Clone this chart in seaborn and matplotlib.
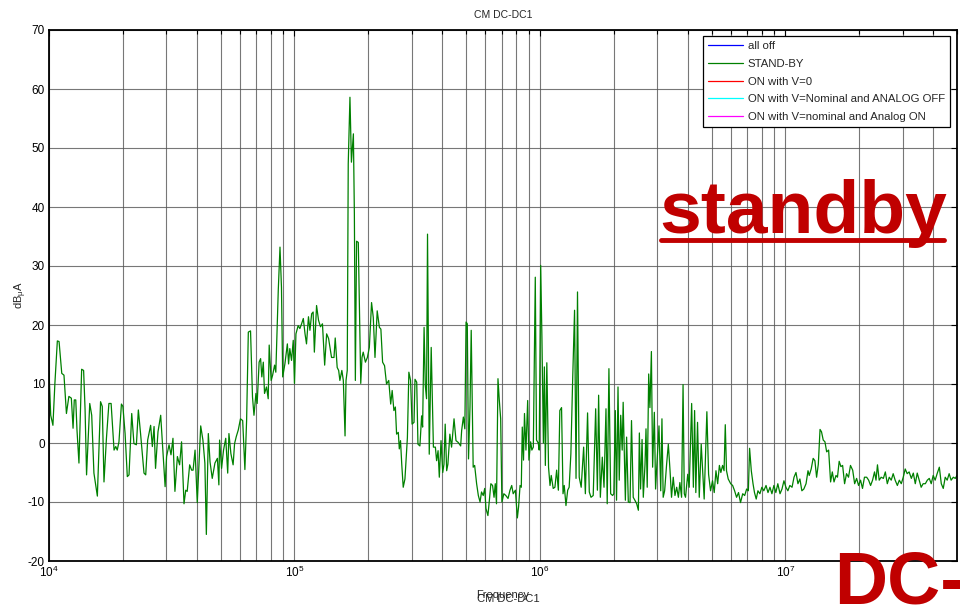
"""
CM DC-DC1: espectro de emisiones en modo comun (STAND-BY).
Valores leidos a mano de la grafica original (eje x logaritmico).
"""

import matplotlib
matplotlib.use("Agg")
import matplotlib.pyplot as plt
import matplotlib.ticker as mticker
import numpy as np
import pandas as pd
import seaborn as sns

# Series
SERIES = ["all off", "STAND-BY", "ON with V=0",
          "ON with V=Nominal and ANALOG OFF", "ON with V=nominal and Analog ON"]
COLORES = ["#0000ff", "#008000", "#ff0000", "#00ffff", "#ff00ff"]

# Exponente decimal de la frecuencia (log10 Hz) y nivel en dBuA, curva STAND-BY
exp_frec = [
    4.000, 4.007, 4.016, 4.024, 4.034, 4.041, 4.052, 4.061, 4.071, 4.081,
    4.091, 4.098, 4.103, 4.109, 4.114, 4.122, 4.133, 4.141, 4.147, 4.153,
    4.166, 4.174, 4.183, 4.197, 4.210, 4.217, 4.224, 4.234, 4.244, 4.253,
    4.265, 4.272, 4.278, 4.285, 4.295, 4.301, 4.310, 4.319, 4.326, 4.337,
    4.346, 4.356, 4.364, 4.373, 4.387, 4.394, 4.402, 4.414, 4.421, 4.428,
    4.434, 4.444, 4.455, 4.462, 4.473, 4.479, 4.489, 4.497, 4.505, 4.513,
    4.523, 4.532, 4.540, 4.550, 4.557, 4.563, 4.573, 4.581, 4.587, 4.595,
    4.604, 4.618, 4.627, 4.635, 4.641, 4.649, 4.656, 4.665, 4.676, 4.686,
    4.692, 4.695, 4.703, 4.711, 4.720, 4.728, 4.733, 4.741, 4.750, 4.756,
    4.763, 4.771,
    4.780, 4.789, 4.798, 4.805, 4.812, 4.821, 4.829, 4.835, 4.843, 4.848,
    4.856, 4.862, 4.867, 4.873, 4.878, 4.886, 4.893, 4.897, 4.905, 4.911,
    4.919, 4.924, 4.934, 4.941, 4.947, 4.952, 4.961, 4.971, 4.976, 4.981,
    4.988, 4.995, 5.000, 5.006, 5.015, 5.022, 5.029, 5.036, 5.043, 5.049,
    5.057, 5.063, 5.070, 5.076, 5.081, 5.090, 5.098, 5.106, 5.114, 5.123,
    5.131, 5.139,
    5.151, 5.161, 5.166, 5.174, 5.180, 5.185, 5.193, 5.199, 5.206, 5.210,
    5.215, 5.219, 5.226, 5.232, 5.240, 5.244, 5.248, 5.253, 5.260, 5.270,
    5.275, 5.280, 5.289, 5.297, 5.305, 5.314, 5.321, 5.328, 5.337, 5.346,
    5.352, 5.359, 5.367, 5.375, 5.384, 5.392, 5.398, 5.405, 5.411, 5.416,
    5.423, 5.427, 5.432, 5.437, 5.443, 5.450, 5.460, 5.466, 5.473, 5.479,
    5.487, 5.491, 5.498, 5.503, 5.511, 5.518, 5.522, 5.528, 5.533, 5.538,
    5.542, 5.549, 5.557, 5.566, 5.574, 5.579, 5.585, 5.590, 5.597, 5.604,
    5.609, 5.614, 5.620, 5.625, 5.633, 5.640, 5.650, 5.658, 5.667, 5.677,
    5.681, 5.688, 5.694, 5.699, 5.704, 5.709, 5.715, 5.720, 5.728, 5.734,
    5.742, 5.749, 5.756, 5.762, 5.769, 5.775, 5.780, 5.788, 5.794, 5.800,
    5.807, 5.813, 5.818, 5.823, 5.829, 5.834, 5.840, 5.845, 5.853, 5.861,
    5.870, 5.878, 5.885, 5.891, 5.900, 5.908, 5.913, 5.919, 5.924, 5.928,
    5.933, 5.937, 5.943, 5.950, 5.955, 5.962, 5.967, 5.973, 5.981, 5.986,
    5.993, 5.997, 6.003, 6.008, 6.014, 6.018, 6.022, 6.028, 6.035, 6.041,
    6.046, 6.054, 6.061, 6.068, 6.075, 6.081, 6.088, 6.094, 6.099, 6.106,
    6.113, 6.119, 6.126, 6.133, 6.141, 6.147, 6.153, 6.160, 6.168, 6.178,
    6.185, 6.194, 6.201, 6.208, 6.217, 6.227, 6.234, 6.239, 6.246, 6.254,
    6.261, 6.269, 6.274, 6.281, 6.288, 6.296, 6.301, 6.307, 6.312, 6.318,
    6.323, 6.329, 6.335, 6.339, 6.348, 6.353, 6.360,
    6.367, 6.373, 6.380, 6.388, 6.394, 6.401, 6.405, 6.410, 6.416, 6.421,
    6.428, 6.432, 6.437, 6.443, 6.448, 6.454, 6.459, 6.466, 6.471, 6.478,
    6.485, 6.492, 6.497, 6.502, 6.508, 6.516, 6.523, 6.530, 6.536, 6.543,
    6.550, 6.557, 6.564, 6.570, 6.577, 6.583, 6.588, 6.593, 6.602, 6.608,
    6.618, 6.625, 6.630, 6.635, 6.642, 6.649, 6.657, 6.663, 6.669, 6.675,
    6.680, 6.687, 6.695, 6.703, 6.710, 6.717, 6.724, 6.731, 6.737, 6.744,
    6.750, 6.755, 6.760, 6.767, 6.777, 6.785, 6.793, 6.801, 6.809, 6.817,
    6.826, 6.834, 6.842, 6.849, 6.854, 6.861, 6.868, 6.874, 6.881, 6.888,
    6.896, 6.904, 6.912, 6.921, 6.929, 6.937, 6.945, 6.953, 6.961, 6.969,
    6.978, 6.986, 6.994, 7.002, 7.010, 7.018, 7.027, 7.035, 7.043, 7.051,
    7.059, 7.067, 7.075, 7.084, 7.092, 7.097, 7.105, 7.113, 7.120, 7.127,
    7.134, 7.141,
    7.147, 7.154, 7.161, 7.168, 7.176, 7.184, 7.191, 7.198, 7.206, 7.212,
    7.219, 7.226, 7.233, 7.241, 7.249, 7.257, 7.265, 7.274, 7.282, 7.290,
    7.298, 7.306, 7.314, 7.322, 7.331, 7.339, 7.347, 7.355, 7.363, 7.369,
    7.375, 7.382, 7.390, 7.399, 7.407, 7.415, 7.423, 7.431, 7.439, 7.447,
    7.456, 7.464, 7.472, 7.480, 7.488, 7.496, 7.504, 7.513, 7.521, 7.529,
    7.537, 7.545, 7.553, 7.561, 7.570, 7.578, 7.586, 7.594, 7.602, 7.610,
    7.618, 7.627, 7.635, 7.643, 7.651, 7.659, 7.667, 7.675, 7.684, 7.692,
    7.699,
]

nivel_standby = [
    12.1, 4.7, 3.0, 10.1, 17.3, 17.2, 11.8, 11.5, 5.0, 7.9,
    7.6, 2.5, 7.3, 7.3, 2.2, -3.4, 12.5, 12.3, 5.6, -5.4,
    6.7, 4.7, -5.1, -9.0, 7.0, 6.2, -6.6, 0.8, 6.7, 6.7,
    -1.2, -0.6, -1.2, 0.2, 6.6, 6.2, 1.6, -5.7, -5.4, 5.0,
    -0.1, -0.3, 5.6, 1.6, -5.1, -5.4, 0.5, 3.0, -0.6, 2.8,
    -4.3, 1.9, 4.7, -0.1, -7.4, -2.3, -0.3, -2.0, 0.8, -8.2,
    -2.3, -3.7, 0.2, -10.3, -8.0, -8.2, -3.7, -4.6, -4.6, -1.2,
    -10.1, 2.9, 0.5, -3.4, -15.5, 1.6, -3.2, -6.0, -3.4, -2.6,
    -7.1, 0.5, -4.3, -1.2, 0.8, -5.1, 1.6, -1.8, -3.7, -0.1,
    1.1, 2.2,
    4.1, 3.8, -4.5, 3.8, 18.8, 19.0, 7.8, 4.7, 8.4, 6.7,
    13.7, 14.3, 11.2, 13.7, 8.4, 9.5, 7.5, 16.6, 10.6, 11.5,
    13.2, 12.0, 25.9, 33.2, 26.4, 11.2, 13.4, 16.8, 13.4, 16.0,
    14.0, 17.4, 10.1, 18.5, 19.9, 19.4, 20.2, 21.1, 18.5, 16.8,
    21.4, 19.1, 21.9, 22.2, 15.4, 23.3, 20.8, 19.7, 20.2, 13.2,
    18.5, 17.7,
    14.5, 14.5, 17.8, 12.8, 12.3, 10.6, 12.3, 10.6, 1.2, 10.6,
    12.3, 47.3, 58.6, 47.6, 52.4, 38.8, 10.6, 34.2, 34.0, 10.1,
    14.5, 15.4, 13.7, 14.5, 16.2, 23.8, 21.3, 14.5, 22.4, 19.6,
    19.3, 13.7, 13.1, 10.0, 10.6, 6.6, 8.9, 5.5, 6.1, 1.5,
    1.8, -1.0, 0.4, -3.6, -7.5, -6.1, 0.9, 12.0, 10.6, 3.2,
    3.5, 10.8, 10.3, -0.2, -0.5, 4.6, 2.7, 19.6, 9.7, 7.5,
    35.4, -1.9, 16.2, -0.7, -0.7, -3.0, -1.3, -5.8, 0.4, -5.0,
    -3.6, 3.2, -4.7, -3.6, 1.5, -0.7, 4.1, 0.4, 0.1, -0.5,
    2.1, 4.4, 2.4, 20.5, 20.2, -2.7, 6.1, 19.1, -4.1, -3.8,
    -6.9, -8.9, -10.0, -8.3, -8.9, -7.7, -11.1, -12.3, -9.7, -6.9,
    -7.2, -9.2, -6.9, -10.3, 10.9, 7.5, 4.1, -10.0, -8.6, -8.9,
    -9.4, -8.0, -7.2, -8.6, -8.0, -12.7, -10.8, -7.2, -7.5, 2.7,
    -2.9, 5.0, -1.2, 7.2, -2.9, 0.2, -1.2, -0.7, 28.1, 0.5,
    0.0, -1.2, 30.1, 18.0, 0.0, 12.9, -3.8, 13.6, -4.1, -7.2,
    -5.5, -7.7, -7.5, -4.6, -8.0, 5.5, 6.0, -8.6, -7.2, -10.6,
    -8.0, -7.5, -1.8, 10.3, 22.5, -6.0, 25.6, -5.8, -7.5, -0.7,
    -8.6, 5.1, -8.3, -9.2, -8.9, 5.8, -8.0, 8.1, -9.2, -2.4,
    -7.5, 5.8, -10.3, 12.6, -8.6, -8.9, -8.6, 5.5, -9.7, 9.5,
    -6.3, 4.7, -1.2, 6.9, -9.7, 1.0, -10.0,
    -10.1, 3.8, -9.2, -9.8, -10.3, -11.4, 1.7, -7.8, 0.6, -9.2,
    -3.6, 2.4, -7.5, 11.7, 6.0, 15.5, -4.1, 5.2, -7.8, -2.4,
    2.9, -8.1, 4.1, -9.2, -8.1, -3.6, -0.2, -4.7, -9.2, -5.8,
    -8.9, -7.5, -9.2, -6.7, -9.2, 9.9, -8.6, -9.2, -5.3, -7.5,
    6.7, -7.5, 5.5, -8.4, 3.5, -9.2, -0.2, -4.7, -9.5, -1.3,
    5.3, -5.3, -8.1, -6.4, -8.4, -4.7, -6.9, -3.8, -5.0, -3.8,
    -4.7, 3.1, -4.7, -6.1, -6.9, -7.2, -8.1, -9.2, -8.4, -10.1,
    -8.6, -8.9, -7.8, -8.1, -0.9, -4.7, -6.9, -8.4, -9.5, -8.1,
    -8.6, -7.5, -8.1, -7.2, -8.4, -7.5, -8.6, -7.2, -8.4, -6.9,
    -8.6, -7.8, -6.4, -7.5, -8.1, -7.2, -7.5, -5.8, -5.0, -6.9,
    -6.1, -8.1, -7.8, -6.9, -4.7, -5.5, -4.4, -2.6, -3.0, -5.8,
    -3.6, 2.3,
    1.9, 0.5, 0.2, -1.5, -1.2, -6.6, -4.9, -6.6, -5.5, -5.8,
    -3.1, -4.0, -3.8, -6.9, -5.2, -5.8, -3.8, -4.6, -6.9, -6.0,
    -7.2, -6.3, -7.7, -5.8, -5.8, -6.3, -7.2, -6.3, -4.9, -6.3,
    -3.7, -6.3, -5.8, -6.0, -4.9, -6.9, -5.8, -6.3, -5.2, -6.3,
    -7.2, -6.3, -6.9, -5.8, -4.4, -5.2, -4.9, -6.0, -5.1, -6.9,
    -5.1, -6.3, -7.5, -6.9, -6.9, -6.3, -6.0, -6.9, -5.5, -6.3,
    -5.2, -4.1, -6.9, -7.7, -5.8, -6.3, -5.2, -6.3, -5.8, -6.0,
    -5.5,
]

ROJO = "#c00000"

sns.set_theme(style="white")
plt.rcParams["font.family"] = ["Liberation Sans", "DejaVu Sans"]
plt.rcParams["mathtext.fontset"] = "custom"
plt.rcParams["mathtext.rm"] = "Liberation Sans"
plt.rcParams["mathtext.it"] = "Liberation Sans:italic"
plt.rcParams["mathtext.default"] = "regular"
plt.rcParams["axes.unicode_minus"] = False

df = pd.DataFrame({
    "frecuencia": 10 ** np.array(exp_frec),
    "nivel": nivel_standby,
    "serie": "STAND-BY",
})

fig = plt.figure(figsize=(9.6, 6.05), dpi=100)
ax = fig.add_axes([49 / 960, 1 - 561 / 605, 908 / 960, 531 / 605])

# las demas curvas no tienen trazo visible, solo entrada en la leyenda
for nombre, color in zip(SERIES, COLORES):
    if nombre == "STAND-BY":
        sns.lineplot(data=df, x="frecuencia", y="nivel", color=color,
                     linewidth=0.9, estimator=None, sort=False, ax=ax,
                     label=nombre)
    else:
        ax.plot([], [], color=color, linewidth=0.9, label=nombre)

ax.set_xscale("log")
ax.set_xlim(1e4, 5e7)
ax.set_ylim(-20, 70)
ax.set_yticks(np.arange(-20, 71, 10))
ax.xaxis.set_major_locator(mticker.LogLocator(base=10))
ax.xaxis.set_minor_locator(mticker.LogLocator(base=10, subs=np.arange(2, 10)))
ax.xaxis.set_minor_formatter(mticker.NullFormatter())

ax.grid(True, which="major", color="#555555", linewidth=0.8, alpha=0.8)
ax.grid(True, which="minor", axis="x", color="#555555", linewidth=0.8, alpha=0.8)
ax.tick_params(which="both", direction="in", top=True, right=True,
               labelsize=8.5, colors="black", pad=3)
ax.tick_params(which="major", length=4, width=0.8)
ax.tick_params(which="minor", length=3, width=0.8)
for sp in ax.spines.values():
    sp.set_color("black")
    sp.set_linewidth(1.3)

ax.set_xlabel("Frequency", fontsize=8, labelpad=7)
ax.set_ylabel("dB$_{\\mu}$A", fontsize=8, labelpad=-1)
ax.set_title("CM DC-DC1", fontsize=7.5, pad=9)
fig.text(508 / 960, 1 - 599 / 605, "CM DC-DC1", fontsize=8,
         ha="center", va="center")

leg = ax.legend(loc="upper right", bbox_to_anchor=(0.9923, 0.9887),
                borderaxespad=0, fontsize=8.2, frameon=True, fancybox=False,
                framealpha=1, edgecolor="black", handlelength=3.0,
                handletextpad=0.45, labelspacing=0.68, borderpad=0.45)
leg.get_frame().set_linewidth(0.9)

# rotulos superpuestos en rojo
fig.text(659 / 960, 1 - 233 / 605, "standby", fontsize=54, color=ROJO,
         fontweight="bold", ha="left", va="baseline")
fig.add_artist(plt.Line2D([661 / 960, 944 / 960], [1 - 240 / 605] * 2,
                          color=ROJO, linewidth=3.5))
fig.text(834 / 960, 1 - 604 / 605, "DC-", fontsize=53, color=ROJO,
         fontweight="bold", ha="left", va="baseline")

fig.savefig("out.png", dpi=100)
